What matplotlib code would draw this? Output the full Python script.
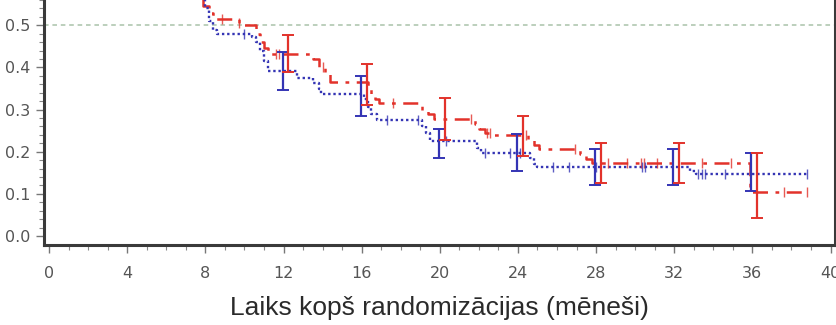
import numpy as np
import matplotlib
matplotlib.use('Agg')
import matplotlib.pyplot as plt

# Kaplan-Meier estimates (months, survival probability), step-post
red_t = [0, 7.9, 8.2, 8.4, 9.7, 9.9, 10.6, 10.8, 11.0, 11.2, 13.5, 13.8, 14.1, 14.4,
         16.3, 16.5, 16.7, 16.9, 19.1, 19.4, 19.7, 21.8, 22.0, 22.3, 22.7, 24.5, 24.8,
         25.1, 27.2, 27.5, 27.8, 35.9, 38.8]
red_s = [1.0, 0.545, 0.53, 0.515, 0.505, 0.50, 0.48, 0.46, 0.445, 0.433, 0.42, 0.40,
         0.385, 0.365, 0.35, 0.335, 0.325, 0.315, 0.30, 0.29, 0.278, 0.265, 0.255,
         0.245, 0.240, 0.228, 0.215, 0.207, 0.195, 0.183, 0.173, 0.104, 0.104]

blue_t = [0, 8.0, 8.2, 8.4, 8.6, 10.4, 10.6, 10.8, 11.0, 11.2, 12.7, 13.5, 13.8, 13.9,
          16.1, 16.3, 16.5, 16.8, 19.1, 19.3, 19.5, 21.9, 22.1, 24.6, 24.8, 25.0, 32.8,
          33.1, 38.8]
blue_s = [1.0, 0.54, 0.51, 0.49, 0.48, 0.473, 0.46, 0.44, 0.415, 0.392, 0.374, 0.362,
          0.35, 0.336, 0.325, 0.305, 0.29, 0.275, 0.262, 0.245, 0.226, 0.21, 0.198,
          0.185, 0.172, 0.163, 0.155, 0.148, 0.148]

# censored observations
red_cens = [8.85, 9.7, 11.6, 11.75, 14.0, 17.6, 21.6, 22.4, 22.55, 24.4, 26.9, 28.6,
            29.6, 30.3, 30.45, 31.1, 33.4, 34.9, 37.6, 38.8]
blue_cens = [10.0, 17.3, 18.9, 20.3, 22.3, 23.6, 24.1, 25.8, 26.6, 28.0, 30.35, 30.5,
             33.2, 33.4, 33.6, 34.6, 38.8]

# 95% confidence intervals at landmark times
ci_t = [12, 16, 20, 24, 28, 32, 36]
red_lo = [0.390, 0.310, 0.228, 0.190, 0.125, 0.127, 0.042]
red_hi = [0.478, 0.407, 0.327, 0.285, 0.221, 0.221, 0.198]
blue_lo = [0.346, 0.285, 0.184, 0.155, 0.120, 0.120, 0.108]
blue_hi = [0.437, 0.379, 0.254, 0.242, 0.207, 0.207, 0.198]

x_ticks = np.arange(0, 41, 4)
y_ticks = [0.0, 0.1, 0.2, 0.3, 0.4, 0.5]

RED = '#e2322b'
BLUE = '#3434b4'
tick_font = ['Liberation Sans Narrow', 'DejaVu Sans']

fig = plt.figure(figsize=(8.37, 3.25), dpi=100)
ax = fig.add_axes([44 / 837, 80 / 325, (835 - 44) / 837, 245 / 325])

ax.axhline(0.5, color='#a9c2a9', ls=(0, (3, 2.5)), lw=1.1, zorder=1)

ax.step(red_t, red_s, where='post', color=RED, lw=1.8,
        ls=(0, (6, 3, 1.5, 3)), zorder=3)
ax.step(blue_t, blue_s, where='post', color=BLUE, lw=1.7,
        ls=(0, (1, 1.2)), zorder=3)


def surv_at(ts, ss, x):
    idx = np.searchsorted(ts, x, side='right') - 1
    return np.asarray(ss)[idx]


ax.plot(red_cens, surv_at(red_t, red_s, red_cens), ls='none', marker='|',
        ms=7, mew=1.0, color=RED, alpha=0.8, zorder=4)
ax.plot(blue_cens, surv_at(blue_t, blue_s, blue_cens), ls='none', marker='|',
        ms=7, mew=1.0, color=BLUE, alpha=0.8, zorder=4)

ci_t = np.array(ci_t, dtype=float)
blue_lo, blue_hi = np.array(blue_lo), np.array(blue_hi)
red_lo, red_hi = np.array(red_lo), np.array(red_hi)
ax.errorbar(ci_t - 0.05, (blue_lo + blue_hi) / 2, yerr=(blue_hi - blue_lo) / 2,
            fmt='none', ecolor=BLUE, elinewidth=1.6, capsize=4.5, capthick=1.4,
            zorder=5)
ax.errorbar(ci_t + 0.25, (red_lo + red_hi) / 2, yerr=(red_hi - red_lo) / 2,
            fmt='none', ecolor=RED, elinewidth=1.6, capsize=4.5, capthick=1.4,
            zorder=5)

ax.set_xlim(-0.26, 40.23)
ax.set_ylim(-0.0212, 0.5553)
ax.set_xticks(x_ticks)
ax.set_xticks(np.arange(0, 41, 1), minor=True)
ax.set_yticks(y_ticks)
ax.set_yticks(np.arange(0, 0.56, 0.02), minor=True)
ax.set_yticklabels([f'{v:.1f}' for v in y_ticks])

ax.spines['top'].set_visible(False)
for side in ('left', 'bottom', 'right'):
    ax.spines[side].set_color('#3a3a3a')
    ax.spines[side].set_linewidth(2.2)

ax.tick_params(axis='both', which='major', length=6, width=1.0, color='#777',
               labelcolor='#555', labelsize=11.5, pad=4)
ax.tick_params(axis='both', which='minor', length=3.5, width=0.8, color='#888')
ax.tick_params(axis='x', which='major', pad=9)
for lab in ax.get_xticklabels() + ax.get_yticklabels():
    lab.set_family(tick_font)

ax.set_xlabel('Laiks kopš randomizācijas (mēneši)', fontsize=19,
              color='#2a2a2a', family=['Liberation Sans', 'DejaVu Sans'],
              labelpad=11)

fig.savefig('out.png', dpi=100)
